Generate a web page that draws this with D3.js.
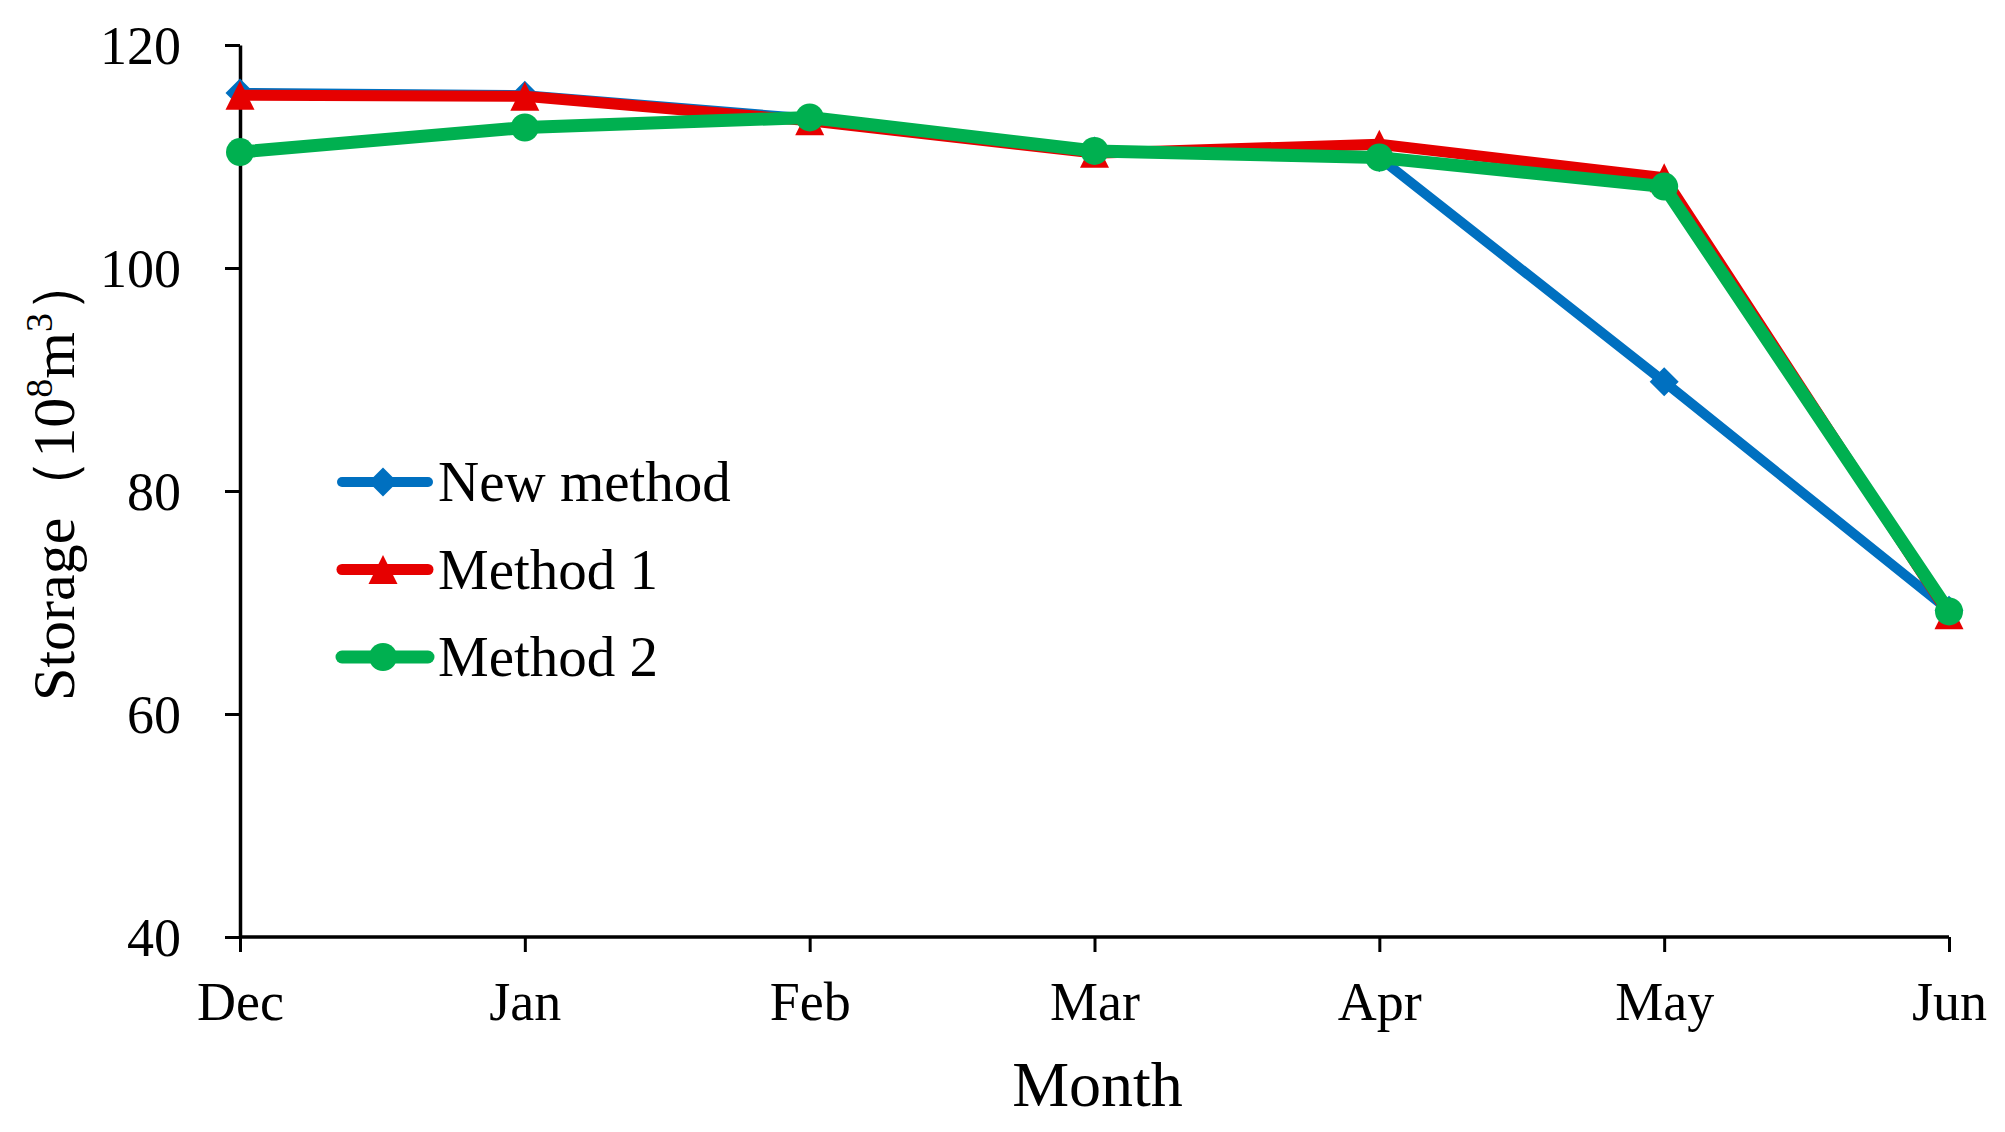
<!DOCTYPE html>
<html>
<head>
<meta charset="utf-8">
<script src="https://cdn.jsdelivr.net/npm/d3@7"></script>
<style>
  body { margin: 0; background: #fff; }
  text { font-family: "Times New Roman", "Liberation Serif", serif; fill: #000; }
</style>
</head>
<body>
<div id="chart"></div>
<script>
// chart values
var months = ["Dec", "Jan", "Feb", "Mar", "Apr", "May", "Jun"];
var newMethod = [115.7, 115.5, 113.4, 110.5, 109.9, 89.8, 69.3];
var method1 = [115.5, 115.4, 113.2, 110.3, 111.1, 108.1, 68.9];
var method2 = [110.4, 112.6, 113.5, 110.5, 109.9, 107.3, 69.2];
var yTicks = [40, 60, 80, 100, 120];

var width = 2005, height = 1132;
var margin = { left: 240, right: 56, top: 45, bottom: 195 };

var series = [
  { name: "New method", values: newMethod, color: "#0070C0", lw: 10, symbol: "diamond", size: 29 },
  { name: "Method 1", values: method1, color: "#E60000", lw: 11, symbol: "triangle", size: 29 },
  { name: "Method 2", values: method2, color: "#00B050", lw: 13, symbol: "circle", size: 28 }
];

var svg = d3.select("#chart").append("svg")
  .attr("width", width).attr("height", height);

var x = d3.scalePoint().domain(months).range([margin.left, width - margin.right]);
var y = d3.scaleLinear().domain([40, 120]).range([height - margin.bottom, margin.top]);

// axes
var xAxis = svg.append("g")
  .attr("transform", `translate(0,${y(40)})`)
  .call(d3.axisBottom(x).tickSize(15).tickSizeOuter(0).tickPadding(30));
var yAxis = svg.append("g")
  .attr("transform", `translate(${x("Dec")},0)`)
  .call(d3.axisLeft(y).tickValues(yTicks).tickSize(15).tickSizeOuter(0).tickPadding(44));

[xAxis, yAxis].forEach(function (a) {
  a.select(".domain").attr("stroke", "#000").attr("stroke-width", 3.5);
  a.selectAll(".tick line").attr("stroke", "#000").attr("stroke-width", 3);
  a.selectAll(".tick text").attr("font-size", 54).attr("font-family", null);
});
xAxis.selectAll(".tick text").attr("dy", "0.71em");
yAxis.selectAll(".tick text").attr("dy", "0.34em");
// last x tick reaches the right end of the axis
xAxis.select(".domain").attr("d", `M${x("Dec")},0H${x("Jun")}`);

// axis titles
svg.append("text")
  .attr("x", (x("Dec") + x("Jun")) / 2 + 3)
  .attr("y", 1106)
  .attr("text-anchor", "middle")
  .attr("font-size", 64)
  .text("Month");

var yl = svg.append("text")
  .attr("transform", `translate(74,${(y(40) + y(120)) / 2 - 14}) rotate(-90)`)
  .attr("text-anchor", "middle")
  .attr("font-size", 60);
yl.append("tspan").text("Storage（10");
yl.append("tspan").attr("font-size", 38).attr("dy", -22).text("8");
yl.append("tspan").attr("dy", 22).text("m");
yl.append("tspan").attr("font-size", 38).attr("dy", -22).text("3");
yl.append("tspan").attr("dy", 22).text("）");

function symbolPath(s) {
  var h = s.size / 2;
  if (s.symbol === "diamond") return `M0,${-h}L${h},0L0,${h}L${-h},0Z`;
  if (s.symbol === "triangle") return `M0,${-h}L${h},${h}L${-h},${h}Z`;
  return d3.symbol(d3.symbolCircle, Math.PI * h * h)();
}

var line = d3.line()
  .x(function (d, i) { return x(months[i]); })
  .y(function (d) { return y(d); });

series.forEach(function (s) {
  var g = svg.append("g");
  g.append("path")
    .attr("d", line(s.values))
    .attr("fill", "none")
    .attr("stroke", s.color)
    .attr("stroke-width", s.lw)
    .attr("stroke-linejoin", "round");
  g.selectAll("path.mark").data(s.values).enter().append("path")
    .attr("class", "mark")
    .attr("d", symbolPath(s))
    .attr("transform", function (d, i) { return `translate(${x(months[i])},${y(d)})`; })
    .attr("fill", s.color);
});

// legend
var legend = svg.append("g");
series.forEach(function (s, i) {
  var ly = 482 + i * 87.5;
  legend.append("line")
    .attr("x1", 342).attr("x2", 428).attr("y1", ly).attr("y2", ly)
    .attr("stroke", s.color).attr("stroke-width", s.lw)
    .attr("stroke-linecap", "round");
  legend.append("path")
    .attr("d", symbolPath(s))
    .attr("transform", `translate(383,${ly})`)
    .attr("fill", s.color);
  legend.append("text")
    .attr("x", 438).attr("y", ly).attr("dy", "0.34em")
    .attr("font-size", 57)
    .text(s.name);
});
</script>
</body>
</html>
